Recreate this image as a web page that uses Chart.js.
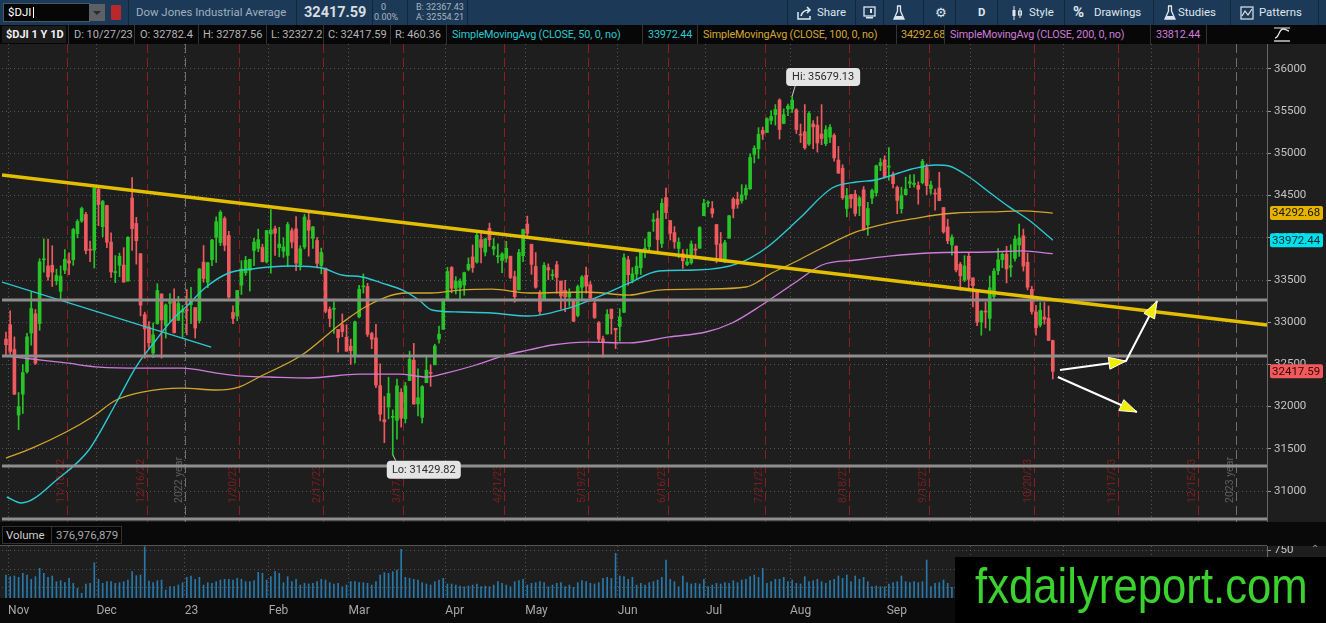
<!DOCTYPE html>
<html>
<head>
<meta charset="utf-8">
<script src="https://cdn.jsdelivr.net/npm/chart.js"></script>
<style>
html, body { margin: 0; padding: 0; background: #0b0b0b; width: 1326px; height: 623px; overflow: hidden; font-family: Roboto, "Open Sans", sans-serif; }
.abs { position: absolute; }
.t { position: absolute; white-space: nowrap; font-size: 11.4px; }
#top { position: absolute; left: 0; top: 0; width: 1326px; height: 25px; background: #1c3a57; }
#top .t { line-height: 25px; top: 0; color: #dfe6ee; }
#top .sep { position: absolute; top: 0; width: 1px; height: 25px; background: #10263d; }
#row2 { position: absolute; left: 0; top: 25px; width: 1326px; height: 19px; background: #070707; }
#row2 .t { line-height: 19px; top: 0; color: #b4b4b4; font-size: 11px; }
#row2 .t.sma { font-size: 10.8px; letter-spacing: -0.15px; }
#row2 .sep { position: absolute; top: 0; width: 1px; height: 19px; background: #333; }
#priceWrap { position: absolute; left: 0; top: 44px; width: 1326px; height: 478px; }
#volStrip { position: absolute; left: 0; top: 522px; width: 1326px; height: 23px; background: #090909; }
#volLine { position: absolute; left: 0; top: 545px; width: 1267px; height: 1px; background: #555; }
#volWrap { position: absolute; left: 0; top: 546px; width: 1326px; height: 77px; }
#wm { position: absolute; left: 955px; top: 557px; width: 371px; height: 66px; background: #000; overflow: hidden; }
#wm span { position: absolute; left: 20px; top: 4px; font-family: "Liberation Sans", Arial, sans-serif; font-size: 50px; line-height: 50px; color: #3bd12f; transform-origin: left top; transform: scaleX(0.874); white-space: nowrap; }
</style>
</head>
<body>

<div id="top">
  <div class="abs" style="left:3px;top:3px;width:85px;height:17px;background:#060606;border:1px solid #45596d;"></div>
  <span class="t" style="left:8px;color:#fff;">$DJI</span>
  <div class="abs" style="left:33px;top:7px;width:1px;height:11px;background:#fff;"></div>
  <div class="abs" style="left:89px;top:4px;width:16px;height:17px;background:#5d6166;"></div>
  <div class="abs" style="left:93px;top:11px;width:0;height:0;border-left:4px solid transparent;border-right:4px solid transparent;border-top:4px solid #2b2b2b;"></div>
  <div class="abs" style="left:111px;top:5px;width:10px;height:15px;background:#b8282c;border-radius:1px;"></div>
  <div class="sep" style="left:128px"></div>
  <span class="t" style="left:136px;color:#9fb0c0;">Dow Jones Industrial Average</span>
  <div class="sep" style="left:296px"></div>
  <span class="t" style="left:304px;font-weight:bold;font-size:14.5px;color:#d8dde2;">32417.59</span>
  <div class="sep" style="left:372px"></div>
  <span class="t" style="left:381px;font-size:9px;line-height:10px;top:2px;color:#a9b4bf;">0</span>
  <span class="t" style="left:374px;font-size:9px;line-height:10px;top:12px;color:#a9b4bf;">0.00%</span>
  <div class="sep" style="left:407px"></div>
  <span class="t" style="left:416px;font-size:9px;line-height:10px;top:2px;color:#a9b4bf;">B: 32367.43</span>
  <span class="t" style="left:416px;font-size:9px;line-height:10px;top:12px;color:#a9b4bf;">A: 32554.21</span>
  <div class="sep" style="left:467px"></div>

  <div class="sep" style="left:787px"></div>
  <svg class="abs" style="left:797px;top:6px" width="16" height="14"><path d="M1 6v7h12v-3" stroke="#dfe6ee" fill="none" stroke-width="1.5"/><path d="M4 10c1-4 4-6 8-6M10 1l3 3-3 3" stroke="#dfe6ee" fill="none" stroke-width="1.6"/></svg>
  <span class="t" style="left:817px;">Share</span>
  <div class="sep" style="left:855px"></div>
  <svg class="abs" style="left:863px;top:6px" width="13" height="13"><rect x="1" y="1" width="11" height="9" stroke="#dfe6ee" fill="none" stroke-width="1.3"/><rect x="7" y="3" width="2" height="4" fill="#dfe6ee"/><rect x="3" y="11" width="7" height="1.5" fill="#dfe6ee"/></svg>
  <div class="sep" style="left:883px"></div>
  <svg class="abs" style="left:893px;top:5px" width="12" height="15"><path d="M4 1h4M4.5 1v5L1 14h10L7.5 6V1" stroke="#dfe6ee" fill="none" stroke-width="1.3"/><path d="M2.5 11h7l1 3h-9z" fill="#dfe6ee"/></svg>
  <div class="sep" style="left:923px"></div>
  <span class="t" style="left:935px;font-family:'DejaVu Sans';font-size:13px;">&#9881;</span>
  <div class="sep" style="left:955px"></div>
  <span class="t" style="left:978px;font-weight:bold;">D</span>
  <div class="sep" style="left:997px"></div>
  <svg class="abs" style="left:1011px;top:6px" width="13" height="14"><path d="M3 0v14M9 2v10" stroke="#dfe6ee" stroke-width="1"/><rect x="1.5" y="4" width="3" height="6" fill="#dfe6ee"/><rect x="7.5" y="5" width="3" height="4" fill="none" stroke="#dfe6ee"/></svg>
  <span class="t" style="left:1029px;">Style</span>
  <div class="sep" style="left:1064px"></div>
  <span class="t" style="left:1073px;font-weight:bold;font-size:15px;">%</span>
  <span class="t" style="left:1094px;">Drawings</span>
  <div class="sep" style="left:1153px"></div>
  <svg class="abs" style="left:1164px;top:5px" width="12" height="15"><path d="M4 1h4M4.5 1v5L1 14h10L7.5 6V1" stroke="#dfe6ee" fill="none" stroke-width="1.3"/><path d="M2.5 11h7l1 3h-9z" fill="#dfe6ee"/></svg>
  <span class="t" style="left:1178px;">Studies</span>
  <div class="sep" style="left:1230px"></div>
  <svg class="abs" style="left:1240px;top:6px" width="14" height="14"><rect x="1" y="1" width="12" height="12" fill="none" stroke="#dfe6ee" stroke-width="1.2"/><path d="M2 10l3-5 3 4 4-6" stroke="#dfe6ee" fill="none" stroke-width="1.2"/></svg>
  <span class="t" style="left:1259px;">Patterns</span>
  <div class="sep" style="left:1318px"></div>
</div>

<div id="row2">
  <div class="abs" style="left:2px;top:1px;width:64px;height:17px;background:#1b1b1b;"></div>
  <span class="t" style="left:6px;color:#f2f2f2;font-weight:bold;">$DJI 1 Y 1D</span>
  <div class="sep" style="left:68px"></div>
  <span class="t" style="left:74px;">D: 10/27/23</span>
  <div class="sep" style="left:134px"></div>
  <span class="t" style="left:140px;">O: 32782.4</span>
  <div class="sep" style="left:198px"></div>
  <span class="t" style="left:203px;">H: 32787.56</span>
  <div class="sep" style="left:266px"></div>
  <span class="t" style="left:271px;">L: 32327.2</span>
  <div class="sep" style="left:323px"></div>
  <span class="t" style="left:328px;">C: 32417.59</span>
  <div class="sep" style="left:390px"></div>
  <span class="t" style="left:395px;">R: 460.36</span>
  <div class="sep" style="left:446px"></div>
  <span class="t sma" style="left:452px;color:#2cc9d2;">SimpleMovingAvg (CLOSE, 50, 0, no)</span>
  <div class="sep" style="left:642px"></div>
  <span class="t sma" style="left:648px;color:#2cc9d2;">33972.44</span>
  <div class="sep" style="left:697px"></div>
  <span class="t sma" style="left:703px;color:#d6a832;">SimpleMovingAvg (CLOSE, 100, 0, no)</span>
  <div class="sep" style="left:896px"></div>
  <span class="t sma" style="left:901px;color:#d6a832;">34292.68</span>
  <div class="sep" style="left:944px"></div>
  <span class="t sma" style="left:950px;color:#cf7bdb;">SimpleMovingAvg (CLOSE, 200, 0, no)</span>
  <div class="sep" style="left:1150px"></div>
  <span class="t sma" style="left:1156px;color:#cf7bdb;">33812.44</span>
  <div class="sep" style="left:1206px"></div>
  <svg class="abs" style="left:1272px;top:2px" width="20" height="16"><path d="M2 14h16" stroke="#e8e8e8" stroke-width="1.3"/><path d="M3 11c4 0 4-9 8-9s3 2 6 2" stroke="#e8e8e8" fill="none" stroke-width="1.3"/><path d="M2 1h16" stroke="#e8e8e8" stroke-width="1"/></svg>
</div>

<div id="priceWrap"><canvas id="price" width="1326" height="478"></canvas></div>

<div id="volStrip">
  <div class="abs" style="left:2px;top:4px;width:118px;height:16px;border:1px solid #333;background:#050505;"></div>
  <div class="abs" style="left:51px;top:4px;width:1px;height:18px;background:#333;"></div>
  <span class="t" style="left:6px;top:4px;line-height:18px;color:#d0d0d0;">Volume</span>
  <span class="t" style="left:56px;top:4px;line-height:18px;color:#a8a8a8;">376,976,879</span>
</div>
<div id="volLine"></div>
<div id="volWrap"><canvas id="vol" width="1326" height="77"></canvas></div>
<span class="t" style="left:1311px;top:543px;color:#9a9a9a;font-size:10px;">&#8963;</span>

<div id="wm"><span>fxdailyreport.com</span></div>

<script>
// daily bars, 10/31/22 .. 10/27/23 (index 0..249)
const opens = [
  32800,32970,32677,31900,32148,32413,32872,33100,32985,33739,
  33666,33675,33492,33367,33617,33727,33742,34050,34200,34276,
  33860,33853,34576,34132,34383,33949,33588,33675,33677,33487,
  34472,34170,33812,33090,32943,32634,32984,33335,32961,33224,
  33265,33022,33121,33148,33207,33173,33020,33712,33474,33741,
  34007,33943,34228,34027,33115,33073,33439,33587,33614,33850,
  33874,33886,33715,34045,34108,33882,33841,33791,34085,34106,
  33681,33891,34210,33993,33968,33672,33640,33152,33154,32915,
  32971,32822,32716,32600,33064,33419,33422,32865,32814,32249,
  31845,31996,31873,31837,32169,31856,32309,32551,32032,31873,
  32283,32400,32495,32800,32916,33256,33648,33400,33412,33440,
  33626,33774,33712,33978,33830,34112,33867,33776,33731,33756,
  33782,33540,33384,33788,34163,33924,33661,33346,33262,33647,
  33552,33681,33487,33377,33299,33260,33079,33414,33555,33445,
  33226,32995,32802,32861,33155,32927,32950,33117,33740,33499,
  33572,33646,33854,33896,34196,34228,33932,34477,34204,34062,
  33874,33812,33683,33704,33868,33876,34261,34411,34346,34157,
  33927,33713,33995,34458,34457,34440,34506,34580,34988,35054,
  35272,35248,35390,35457,35632,35355,35525,35527,35516,35226,
  35256,35111,35349,35335,35229,35116,35192,35213,34922,34825,
  34347,34513,34517,34378,34568,34153,34471,34533,34856,34923,
  34838,34747,34597,34345,34510,34645,34632,34620,34653,34832,
  34582,34528,34591,34358,34129,33915,33900,33687,33500,33781,
  33525,33367,33003,33133,33045,33305,33610,33742,33807,33651,
  33755,33914,34023,33710,33390,33121,32966,33062,33047,32782
];
const highs = [
  32884,33135,32826,32167,32498,32867,33364,33151,33752,33987,
  33985,33906,33629,33668,33860,33823,34112,34215,34364,34303,
  33960,34590,34595,34444,34384,34058,33790,33819,33883,34013,
  34712,34243,33812,33119,33007,32994,33456,33335,33217,33339,
  33395,33307,33200,33387,33412,33173,33636,33909,33711,33981,
  34248,34323,34250,34077,33194,33376,33728,33780,33748,33993,
  34102,33924,34088,34335,34138,34125,34000,34184,34114,34252,
  33906,34278,34318,34135,34003,33878,33640,33181,33240,32915,
  33098,32970,32800,33012,33436,33572,33461,32882,32974,32507,
  32120,32349,31960,32327,32213,32287,32656,32749,32447,32249,
  32603,32494,32739,32953,33274,33650,33660,33540,33514,33594,
  33762,33915,34058,34082,33995,34173,33992,33928,33824,33958,
  33782,33605,33863,34104,34257,33924,33825,33376,33707,33691,
  33622,33721,33487,33496,33396,33266,33441,33551,33652,33481,
  33275,33009,32836,33149,33155,32929,33160,33810,33782,33647,
  33776,33852,33987,34068,34288,34320,34462,34588,34204,34133,
  33997,33859,33866,33964,33925,34132,34455,34439,34430,34157,
  34063,33970,34266,34477,34541,34630,34629,34996,35090,35305,
  35311,35420,35506,35578,35647,35528,35584,35679,35529,35348,
  35579,35496,35389,35435,35578,35329,35342,35233,35082,34865,
  34586,34513,34563,34493,34607,34420,34576,34862,34939,34972,
  35070,34779,34614,34600,34719,34745,34748,34663,34930,34875,
  34672,34578,34775,34358,34220,34036,33904,33709,33788,33819,
  33525,33367,33141,33236,33548,33634,33872,33823,33900,33917,
  34024,34163,34103,33818,33426,33199,33232,33233,33192,32788
];
const lows = [
  32595,32617,32141,31727,31919,32396,32727,32500,32905,33593,
  33497,33423,33443,33277,33575,33563,33673,34000,34182,33809,
  33716,33642,34143,34011,33883,33530,33469,33539,33473,33487,
  33851,33688,33074,32573,32680,32581,32976,32574,32812,33010,
  32871,33022,32819,32851,32982,32813,32990,33474,33408,33669,
  33708,33907,33846,33285,32982,33017,33328,33555,33369,33671,
  33836,33713,33701,33582,33790,33775,33768,33657,33880,33612,
  33618,33868,33782,33874,33643,33573,33111,32946,32867,32646,
  32828,32655,32501,32515,33051,33345,32831,32687,32223,31831,
  31573,31854,31430,31614,31757,31806,32309,32029,31890,31806,
  32283,32240,32495,32751,32916,33256,33348,33335,33262,33319,
  33608,33591,33700,33702,33785,33899,33796,33702,33588,33711,
  33516,33236,33383,33717,33999,33568,33402,33093,33262,33503,
  33505,33342,33154,33125,33190,33007,33063,33264,33345,33248,
  33044,32767,32586,32859,32860,32687,32776,33117,33438,33466,
  33515,33565,33765,33834,34076,33815,33885,34228,33974,33875,
  33763,33636,33670,33687,33750,33876,34261,34367,34241,33703,
  33727,33704,33995,34236,34350,34410,34454,34572,34887,34939,
  35164,35248,35347,35336,35170,35350,35447,35485,35236,35128,
  35048,35093,35054,35016,35103,35091,35128,34908,34763,34455,
  34249,34353,34257,34263,34087,34029,34403,34493,34795,34709,
  34683,34590,34286,34292,34508,34594,34601,34398,34638,34512,
  34517,34328,34439,34054,33930,33793,33595,33377,33480,33409,
  33180,32958,32846,32932,32902,33275,33563,33647,33466,33538,
  33723,33780,33606,33383,33096,32846,32944,32978,32781,32327
];
const closes = [
  32733,32653,32148,32001,32403,32827,33161,32514,33715,33748,
  33537,33593,33554,33546,33746,33700,34098,34194,34347,33849,
  33853,34590,34395,34430,33947,33596,33598,33781,33476,34005,
  34109,33966,33202,32920,32758,32850,33376,33027,33204,33242,
  32876,33221,33147,33136,33270,32930,33631,33518,33704,33973,
  34190,34303,33911,33297,33045,33375,33630,33734,33744,33949,
  33978,33717,34086,34093,34054,33926,33891,34157,33949,33700,
  33869,34246,34089,34128,33697,33827,33130,33045,33154,32817,
  32889,32657,32662,33004,33391,33431,32856,32798,32255,31910,
  31819,32155,31875,32247,31862,32245,32561,32030,32105,32238,
  32432,32394,32718,32859,33274,33601,33402,33483,33485,33587,
  33685,33647,34030,33886,33987,33977,33897,33787,33809,33875,
  33531,33302,33826,34098,34052,33685,33414,33128,33674,33619,
  33562,33531,33310,33301,33349,33012,33421,33536,33427,33287,
  33056,32800,32765,33093,33043,32908,33062,33763,33563,33573,
  33665,33834,33877,34066,34212,33979,34408,34299,34054,33952,
  33947,33727,33715,33927,33853,34122,34408,34418,34289,33922,
  33735,33944,34261,34347,34395,34509,34585,34952,35061,35225,
  35228,35411,35438,35520,35283,35459,35560,35631,35283,35216,
  35066,35473,35314,35123,35176,35281,35308,34946,34766,34475,
  34501,34464,34289,34473,34099,34347,34560,34853,34890,34722,
  34838,34642,34443,34501,34577,34664,34646,34576,34907,34618,
  34624,34518,34441,34070,33964,34007,33619,33550,33666,33508,
  33433,33002,33130,33120,33408,33605,33739,33805,33631,33670,
  33985,33998,33665,33414,33127,32936,33141,33036,32784,32418
];
// volume in millions
const volumes = [
  421,399,408,390,443,421,364,399,509,443,
  390,408,333,346,320,377,311,245,180,303,
  311,583,364,311,333,333,311,320,333,355,
  465,412,421,794,342,320,346,355,224,267,
  267,289,320,390,408,364,390,289,320,311,
  333,355,364,364,355,377,364,333,333,346,
  456,443,355,399,465,443,320,399,333,364,
  289,311,303,311,333,364,355,320,303,311,
  267,289,333,333,320,320,311,289,333,421,
  452,443,465,487,759,390,377,364,355,320,
  303,289,333,355,377,303,303,289,276,267,
  276,289,303,267,276,267,289,333,311,289,
  267,333,346,364,289,311,320,333,320,267,
  289,311,320,267,289,259,320,346,333,311,
  303,320,377,390,377,706,408,399,364,390,
  289,311,289,320,333,355,390,618,364,333,
  267,408,320,303,311,303,364,267,289,311,
  303,320,311,346,320,355,364,399,421,390,
  509,311,333,364,364,390,333,355,311,303,
  399,333,346,364,333,311,346,364,408,377,
  421,333,408,364,390,333,267,276,267,267,
  303,320,333,408,333,320,333,320,333,618,
  267,311,320,355,311,259,330,345,320,340,
  360,330,380,340,310,330,300,310,300,290,
  280,310,330,340,420,310,330,340,360,377
];

// moving averages: [bar index, value]
const sma50 = [[0.2,30929],[3.6,30858],[12.6,31154],[19.7,31486],[26.2,32043],[30.9,32469],[35.7,32789],[39.5,33026],[42.8,33180],[47.6,33417],[53,33583],[58.5,33630],[62.6,33654],[68,33666],[75.2,33642],[79.9,33559],[84.7,33536],[89.4,33464],[94.2,33382],[98.2,33263],[101.3,33145],[107.8,33121],[115.6,33109],[124.4,33073],[133.9,33168],[141.8,33322],[148.2,33464],[155.3,33607],[164.1,33618],[174.4,33701],[180.8,33879],[188.6,34223],[196.5,34590],[202.2,34661],[206.9,34685],[212.4,34768],[215.5,34815],[221.2,34863],[224.3,34851],[229.1,34720],[233.8,34543],[238.6,34366],[243.3,34211],[249,33972]];
const sma100 = [[0,31391],[6.2,31509],[14.3,31699],[20.5,31877],[26.2,32078],[32.4,32173],[41.9,32220],[50,32197],[55.4,32232],[60.2,32351],[70.4,32611],[79.9,32991],[86.3,33204],[95.1,33346],[101.3,33346],[107.8,33381],[115.6,33393],[124.4,33346],[138,33358],[148.2,33322],[155.3,33381],[166.5,33393],[176,33417],[182.2,33583],[188.6,33737],[194.1,33879],[202.2,34069],[210,34175],[215.5,34223],[221.2,34270],[226,34294],[233.8,34306],[241.7,34318],[249,34293]];
const sma200 = [[0,32600],[6.2,32564],[14.3,32517],[22.1,32469],[32.4,32457],[41.9,32457],[50,32398],[55.4,32363],[62.6,32351],[72.1,32339],[84,32386],[93.5,32386],[99.9,32351],[104.7,32398],[111.8,32493],[118.9,32611],[124.4,32671],[129.9,32730],[138,32765],[148.2,32754],[157.7,32825],[166.5,32884],[172.7,32991],[179.8,33204],[188.6,33500],[194.1,33678],[202.2,33737],[210,33784],[219.5,33820],[233.8,33832],[241.7,33844],[249,33812]];

// drawings
const levels = [33263, 32600, 31296, 30668];
const trendMain = [[-0.95,34744],[299.95,32967]];
const trendShort = [[-0.95,33476],[48.8,32706]];
const arrowUp = [[250.7,32434],[266.4,32540],[273.8,33251]];
const arrowDown = [[250.2,32351],[269,31936]];
const hiPoint = [187, 35679.13];
const loPoint = [92, 31429.82];
const lastSma100 = 34292.68;
const lastSma50 = 33972.44;
const lastClose = 32417.59;

// axes
const priceTicks = [31000,31500,32000,32500,33000,33500,34000,34500,35000,35500,36000];
const volTicks = [250, 500, 750];
const monthNames = ['Nov','Dec','23','Feb','Mar','Apr','May','Jun','Jul','Aug','Sep','Oct','Nov','Dec'];
const monthStarts = [1,22,43,63,82,105,124,146,167,187,210,230,252,273];
const expiryIdx = [14,33,55,75,94,118,138,157,180,200,219,244,264,283];
const expiryNames = ['11/18/22','12/16/22','1/20/23','2/17/23','3/17/23','4/21/23','5/19/23','6/16/23','7/21/23','8/18/23','9/15/23','10/20/23','11/17/23','12/15/23'];
const yearIdx = [42, 292];
const yearNames = ['2022 year', '2023 year'];

const X_MIN = -0.95, X_MAX = 299.95;
const GRID = 'rgba(140,140,140,0.5)';

Chart.defaults.font.family = 'Roboto';
Chart.defaults.animation = false;

const idx = closes.map((c, i) => i);
const candleCol = idx.map(i => closes[i] >= opens[i] ? '#27c427' : '#ee5a5e');
const toPts = arr => arr.map(p => ({x: p[0], y: p[1]}));

const lineDs = (data, color, width, order, smooth) => ({
    type: 'line',
    data: toPts(data),
    borderColor: color,
    borderWidth: width,
    pointRadius: 0,
    cubicInterpolationMode: smooth ? 'monotone' : 'default',
    tension: smooth ? 0.4 : 0,
    order: order
});

const xAxis = (showLabels) => ({
    type: 'linear',
    min: X_MIN,
    max: X_MAX,
    offset: false,
    afterBuildTicks: s => { s.ticks = monthStarts.map(m => ({value: m - 0.5})); },
    afterFit: s => { s.height = showLabels ? 25 : 0; s.paddingLeft = 0; s.paddingRight = 0; },
    ticks: showLabels
        ? {display: true, align: 'start', autoSkip: false, maxRotation: 0, padding: 6, color: '#a8a8a8', font: {size: 12}, callback: (v, i) => monthNames[i]}
        : {display: false},
    grid: {color: GRID, drawTicks: false, offset: false, borderDash: [1, 3]},
    border: {display: false, dash: [1, 3]}
});

const priceDecor = {
    id: 'priceDecor',
    beforeDraw(chart) {
        const c = chart.ctx;
        c.save();
        c.fillStyle = '#1e1e1e';
        c.fillRect(0, 0, chart.width, chart.height);
        c.restore();
    },
    beforeDatasetsDraw(chart) {
        const c = chart.ctx, a = chart.chartArea, x = chart.scales.x;
        c.save();
        c.beginPath();
        c.rect(a.left, a.top, a.right - a.left, a.bottom - a.top);
        c.clip();
        const marker = (i, label, lineCol, textCol) => {
            const px = Math.round(x.getPixelForValue(i + 0.5)) + 0.5;
            c.strokeStyle = lineCol;
            c.lineWidth = 1;
            c.setLineDash([9, 5]);
            c.beginPath();
            c.moveTo(px, a.top);
            c.lineTo(px, a.bottom);
            c.stroke();
            c.save();
            c.translate(px - 1, a.bottom - 19);
            c.rotate(-Math.PI / 2);
            c.fillStyle = textCol;
            c.font = '10.5px Roboto';
            c.textAlign = 'left';
            c.textBaseline = 'bottom';
            c.fillText(label, 0, 0);
            c.restore();
        };
        expiryIdx.forEach((d, k) => marker(d, expiryNames[k], '#8c1d21', '#7c1e21'));
        yearIdx.forEach((d, k) => marker(d, yearNames[k], '#6e6e6e', '#5e5e5e'));
        c.restore();
    },
    afterDatasetsDraw(chart) {
        const c = chart.ctx, a = chart.chartArea, x = chart.scales.x, y = chart.scales.y;
        c.save();
        c.setLineDash([]);

        // arrow heads
        const head = (from, to) => {
            const x0 = x.getPixelForValue(from[0]), y0 = y.getPixelForValue(from[1]);
            const x1 = x.getPixelForValue(to[0]), y1 = y.getPixelForValue(to[1]);
            const ang = Math.atan2(y1 - y0, x1 - x0), L = 17, W = 6;
            const bx = x1 - L * Math.cos(ang), by = y1 - L * Math.sin(ang);
            c.beginPath();
            c.moveTo(x1, y1);
            c.lineTo(bx + W * Math.sin(ang), by - W * Math.cos(ang));
            c.lineTo(bx - W * Math.sin(ang), by + W * Math.cos(ang));
            c.closePath();
            c.fillStyle = '#f2ee00';
            c.fill();
            c.strokeStyle = '#ffffff';
            c.lineWidth = 1;
            c.stroke();
        };
        head(arrowUp[0], arrowUp[1]);
        head(arrowUp[1], arrowUp[2]);
        head(arrowDown[0], arrowDown[1]);

        // hi / lo bubbles
        const note = (pt, text, above) => {
            const px = x.getPixelForValue(pt[0]), py = y.getPixelForValue(pt[1]);
            const w = 74, h = 18;
            const bx = px - 6, by = above ? py - 28 : py + 6;
            c.strokeStyle = '#cfcfcf';
            c.lineWidth = 1;
            c.beginPath();
            c.moveTo(px, py);
            c.lineTo(px + 3, above ? by + h : by);
            c.stroke();
            c.fillStyle = '#e4e4e4';
            c.beginPath();
            c.roundRect(bx, by, w, h, 4);
            c.fill();
            c.fillStyle = '#2a2a2a';
            c.font = '11px Roboto';
            c.textAlign = 'center';
            c.textBaseline = 'middle';
            c.fillText(text, bx + w / 2, by + h / 2 + 0.5);
        };
        note(hiPoint, 'Hi: ' + hiPoint[1].toFixed(2), true);
        note(loPoint, 'Lo: ' + loPoint[1].toFixed(2), false);

        // value tags on the price axis
        const tag = (val, bg, fg) => {
            const py = y.getPixelForValue(val);
            c.fillStyle = bg;
            c.beginPath();
            c.roundRect(a.right + 3, py - 7, 53, 14, 2);
            c.fill();
            c.fillStyle = fg;
            c.font = '11.5px Roboto';
            c.textAlign = 'left';
            c.textBaseline = 'middle';
            c.fillText(val.toFixed(2), a.right + 5, py + 0.5);
        };
        tag(lastSma100, '#e6b400', '#1a1400');
        tag(lastSma50, '#00e0ec', '#002a30');
        tag(lastClose, '#f05a5c', '#3a0000');
        c.restore();
    }
};

new Chart(document.getElementById('price'), {
    type: 'bar',
    data: {
        datasets: [
            {type: 'bar', data: idx.map(i => ({x: i, y: [lows[i], highs[i]]})), backgroundColor: candleCol, barThickness: 1, grouped: false, order: 20},
            {type: 'bar', data: idx.map(i => ({x: i, y: [opens[i], closes[i]]})), backgroundColor: candleCol, barThickness: 3, minBarLength: 1, grouped: false, order: 19},
            lineDs(sma200, '#cf7bdb', 1.3, 12, true),
            lineDs(sma100, '#d3a52c', 1.3, 11, true),
            lineDs(sma50, '#2cc9d2', 1.4, 10, true),
            lineDs(trendShort, '#2cc9d2', 1.3, 6, false),
            ...levels.map(v => lineDs([[X_MIN, v], [X_MAX, v]], '#8e8e8e', 3, 5, false)),
            lineDs(trendMain, '#e4bf00', 3.5, 4, false),
            lineDs(arrowUp, '#ffffff', 2, 2, false),
            lineDs(arrowDown, '#ffffff', 2, 2, false)
        ]
    },
    options: {
        responsive: false,
        animation: false,
        layout: {padding: {left: 2, right: 0, top: 0, bottom: 0}},
        plugins: {legend: {display: false}, tooltip: {enabled: false}},
        scales: {
            x: xAxis(false),
            y: {
                position: 'right',
                min: 30633,
                max: 36296,
                afterBuildTicks: s => { s.ticks = priceTicks.map(v => ({value: v})); },
                afterFit: s => { s.width = 59; s.paddingTop = 0; s.paddingBottom = 0; },
                ticks: {color: '#c4c4c4', font: {size: 11.5}, padding: 3, callback: v => String(v)},
                grid: {color: GRID, tickColor: '#9a9a9a', tickLength: 4, borderDash: [1, 3]},
                border: {display: true, color: '#666', dash: [1, 3]}
            }
        }
    },
    plugins: [priceDecor]
});

const volDecor = {
    id: 'volDecor',
    beforeDraw(chart) {
        const c = chart.ctx;
        c.save();
        c.fillStyle = '#0a0a0a';
        c.fillRect(0, 0, chart.width, chart.height);
        c.fillStyle = '#1e1e1e';
        c.fillRect(0, 0, chart.width, chart.chartArea.bottom);
        c.restore();
    }
};

new Chart(document.getElementById('vol'), {
    type: 'bar',
    data: {
        datasets: [{
            data: idx.map(i => ({x: i, y: volumes[i]})),
            backgroundColor: '#2679aa',
            barThickness: 1,
            grouped: false
        }]
    },
    options: {
        responsive: false,
        animation: false,
        layout: {padding: {left: 2, right: 0, top: 0, bottom: 0}},
        plugins: {legend: {display: false}, tooltip: {enabled: false}},
        scales: {
            x: xAxis(true),
            y: {
                position: 'right',
                min: 118,
                max: 803,
                afterBuildTicks: s => { s.ticks = volTicks.map(v => ({value: v})); },
                afterFit: s => { s.width = 59; s.paddingTop = 0; s.paddingBottom = 0; },
                ticks: {color: '#c4c4c4', font: {size: 11.5}, padding: 3, callback: v => String(v)},
                grid: {color: GRID, tickColor: '#9a9a9a', tickLength: 4, borderDash: [1, 3]},
                border: {display: true, color: '#666', dash: [1, 3]}
            }
        }
    },
    plugins: [volDecor]
});
</script>
</body>
</html>
